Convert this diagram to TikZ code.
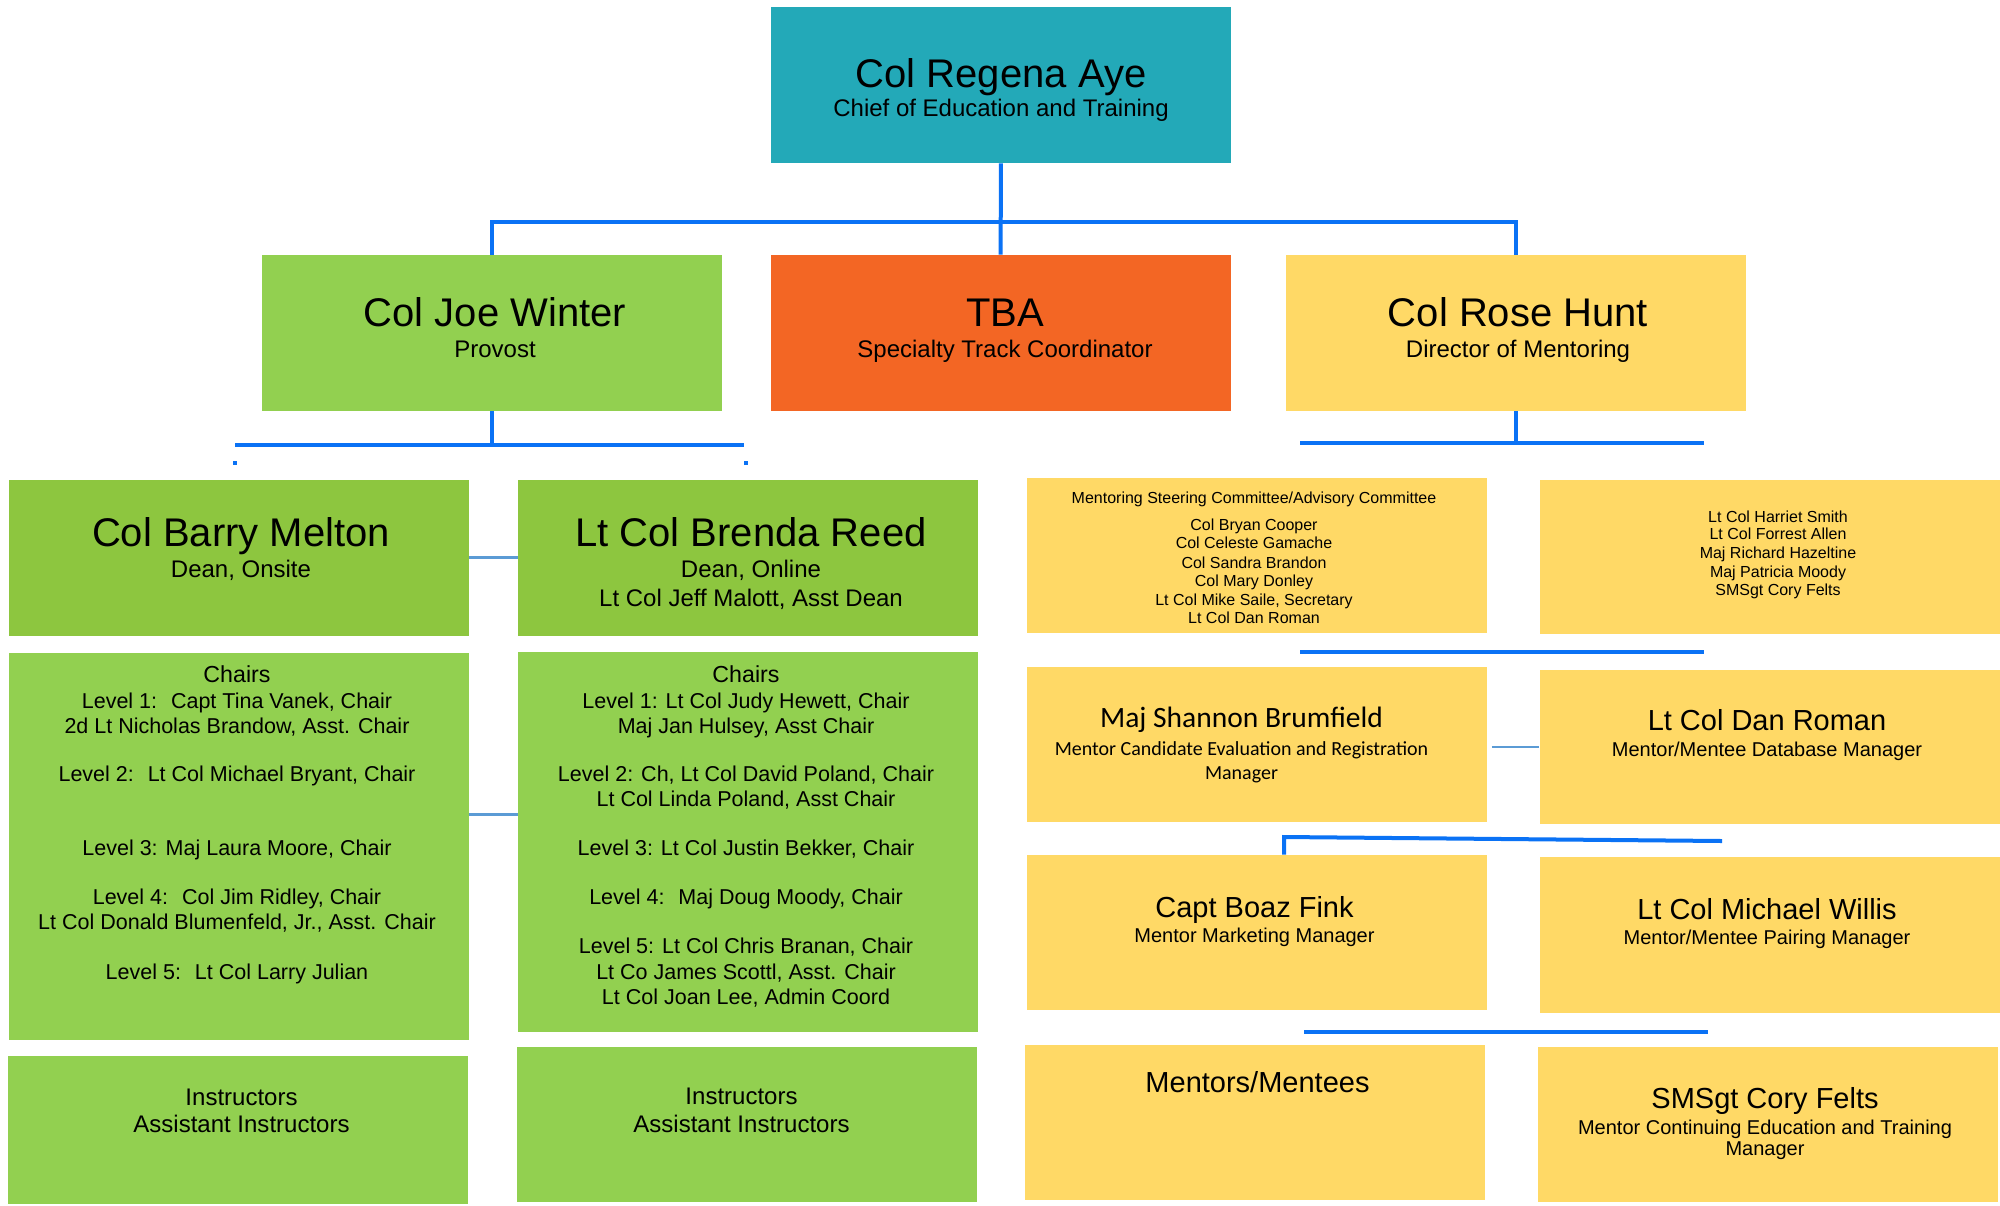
\documentclass[tikz,border=0pt]{standalone}
\usepackage{fontspec}
\usepackage{xcolor}
\usepackage{tikz}
\setmainfont{Liberation Sans}
\newfontfamily\calibrifont{Carlito}
\definecolor{chiefteal}{HTML}{23A9B8}
\definecolor{provostgreen}{HTML}{92D050}
\definecolor{deangreen}{HTML}{8DC63F}
\definecolor{trackorange}{HTML}{F36624}
\definecolor{mentorgold}{HTML}{FFD966}
\definecolor{linkblue}{HTML}{0A72F5}
\definecolor{softblue}{HTML}{5B9BD5}
\newcommand{\boxw}{230pt}
\newcommand{\boxh}{78pt}

\begin{document}
\begin{tikzpicture}[x=0.5pt, y=-0.5pt,
  box/.style={rectangle, inner sep=0pt, minimum width=\boxw, minimum height=\boxh},
  headline/.style={anchor=base, inner sep=0pt, font=\fontsize{20}{24}\selectfont},
  roleline/.style={anchor=base, inner sep=0pt, font=\fontsize{12}{14}\selectfont},
  midhead/.style={anchor=base, inner sep=0pt, font=\fontsize{14.5}{17}\selectfont},
  midrole/.style={anchor=base, inner sep=0pt, font=\fontsize{10}{12}\selectfont},
  listline/.style={anchor=base, inner sep=0pt, font=\fontsize{10.75}{12.75}\selectfont},
  smallline/.style={anchor=base, inner sep=0pt, font=\fontsize{8}{9.5}\selectfont},
  trunk/.style={draw=linkblue, line width=2pt},
  link/.style={draw=softblue, line width=1.3pt}]

\useasboundingbox (0,0) rectangle (2000,1205);

% Chief
\node[box, fill=chiefteal] (aye) at (1001,85) {};
\node[headline] (aye-name) at (1001,87) {Col Regena Aye};
\node[roleline] (aye-role) at (1001,116) {Chief of Education and Training};

% Staff row
\node[box, fill=provostgreen] (winter) at (492,333) {};
\node[headline] (winter-name) at (495,326) {Col Joe Winter};
\node[roleline] (winter-role) at (495,357) {Provost};

\node[box, fill=trackorange] (tba) at (1000.5,333) {};
\node[headline] (tba-name) at (1005,326) {TBA};
\node[roleline] (tba-role) at (1005,357) {Specialty Track Coordinator};

\node[box, fill=mentorgold] (hunt) at (1516,333) {};
\node[headline] (hunt-name) at (1518,326) {Col Rose Hunt};
\node[roleline] (hunt-role) at (1518,357) {Director of Mentoring};

% Deans
\node[box, fill=deangreen] (melton) at (239,557.5) {};
\node[headline] (melton-name) at (241,546) {Col Barry Melton};
\node[roleline] (melton-role) at (241,577) {Dean, Onsite};

\node[box, fill=deangreen] (reed) at (748,557.5) {};
\node[headline] (reed-name) at (751,546) {Lt Col Brenda Reed};
\node[roleline] (reed-role) at (751,577) {Dean, Online};
\node[roleline] (reed-asst) at (751,606) {Lt Col Jeff Malott, Asst Dean};

% Chairs, onsite
\node[box, fill=provostgreen, minimum height=193.5pt] (chairs-l) at (239,846.5) {};
\node[listline, font=\fontsize{11.6}{13.5}\selectfont] (chl-head) at (237,682) {Chairs};
\foreach \txt/\y [count=\i] in {{Level 1:~ Capt Tina Vanek, Chair}/708,
    {2d Lt Nicholas Brandow, Asst. Chair}/733,
    {Level 2:~ Lt Col Michael Bryant, Chair}/781,
    {Level 3: Maj Laura Moore, Chair}/855,
    {Level 4:~ Col Jim Ridley, Chair}/904,
    {Lt Col Donald Blumenfeld, Jr., Asst. Chair}/929,
    {Level 5:~ Lt Col Larry Julian}/979}
{
  \node[listline] (chl-\i) at (237,\y) {\txt};
}

% Chairs, online
\node[box, fill=provostgreen, minimum height=190pt] (chairs-r) at (748,842) {};
\node[listline, font=\fontsize{11.6}{13.5}\selectfont] (chr-head) at (746,682) {Chairs};
\foreach \txt/\y [count=\i] in {{Level 1: Lt Col Judy Hewett, Chair}/708,
    {Maj Jan Hulsey, Asst Chair}/733,
    {Level 2: Ch, Lt Col David Poland, Chair}/781,
    {Lt Col Linda Poland, Asst Chair}/806.5,
    {Level 3: Lt Col Justin Bekker, Chair}/855,
    {Level 4:~ Maj Doug Moody, Chair}/904,
    {Level 5: Lt Col Chris Branan, Chair}/953.5,
    {Lt Co James Scottl, Asst. Chair}/979,
    {Lt Col Joan Lee, Admin Coord}/1004}
{
  \node[listline] (chr-\i) at (746,\y) {\txt};
}

% Instructors
\node[box, fill=provostgreen, minimum height=74pt] (instr-l) at (237.5,1130) {};
\node[roleline] (instr-l-1) at (241.5,1105) {Instructors};
\node[roleline] (instr-l-2) at (241.5,1132) {Assistant Instructors};

\node[box, fill=provostgreen, minimum height=77.5pt] (instr-r) at (746.5,1124.5) {};
\node[roleline] (instr-r-1) at (741.5,1104) {Instructors};
\node[roleline] (instr-r-2) at (741.5,1132) {Assistant Instructors};

% Steering committee
\node[box, fill=mentorgold, minimum height=77.5pt] (steer) at (1257,555.5) {};
\node[smallline] (steer-head) at (1254,503) {Mentoring Steering Committee/Advisory Committee};
\foreach \txt/\y [count=\i] in {Col Bryan Cooper/530, Col Celeste Gamache/548,
    Col Sandra Brandon/568, Col Mary Donley/586,
    {Lt Col Mike Saile, Secretary}/605, Lt Col Dan Roman/623}
{
  \node[smallline] (steer-\i) at (1254,\y) {\txt};
}

% Mentoring members
\node[box, fill=mentorgold, minimum height=77pt] (members) at (1769.5,557) {};
\foreach \txt/\y [count=\i] in {Lt Col Harriet Smith/522, Lt Col Forrest Allen/539,
    Maj Richard Hazeltine/558, Maj Patricia Moody/577, SMSgt Cory Felts/595}
{
  \node[smallline] (member-\i) at (1778,\y) {\txt};
}

% Mentoring managers
\node[box, fill=mentorgold, minimum height=77.5pt] (brumfield) at (1256.5,744.5) {};
\node[anchor=base, inner sep=0pt, font=\calibrifont\fontsize{14.75}{17}\selectfont]
  (brumfield-name) at (1241.5,727) {Maj Shannon Brumfield};
\node[anchor=base, inner sep=0pt, font=\calibrifont\fontsize{10}{12}\selectfont]
  (brumfield-role) at (1241.5,755) {Mentor Candidate Evaluation and Registration};
\node[anchor=base, inner sep=0pt, font=\calibrifont\fontsize{10}{12}\selectfont]
  (brumfield-role2) at (1241.5,779) {Manager};

\node[box, fill=mentorgold, minimum height=77pt] (roman) at (1769.5,747) {};
\node[midhead] (roman-name) at (1767,730) {Lt Col Dan Roman};
\node[midrole] (roman-role) at (1767,756) {Mentor/Mentee Database Manager};

\node[box, fill=mentorgold, minimum height=77.5pt] (fink) at (1256.5,932.5) {};
\node[midhead] (fink-name) at (1254.5,917.5) {Capt Boaz Fink};
\node[midrole] (fink-role) at (1254.5,942) {Mentor Marketing Manager};

\node[box, fill=mentorgold, minimum height=78pt] (willis) at (1769.5,935) {};
\node[midhead] (willis-name) at (1767,919) {Lt Col Michael Willis};
\node[midrole] (willis-role) at (1767,944.5) {Mentor/Mentee Pairing Manager};

\node[box, fill=mentorgold, minimum height=77.5pt] (mentees) at (1254.5,1122.5) {};
\node[midhead] (mentees-name) at (1257.5,1092) {Mentors/Mentees};

\node[box, fill=mentorgold, minimum height=77.5pt] (felts) at (1767.5,1124.5) {};
\node[midhead] (felts-name) at (1765,1108.5) {SMSgt Cory Felts};
\node[midrole] (felts-role) at (1765,1134.5) {Mentor Continuing Education and Training};
\node[midrole] (felts-role2) at (1765,1155) {Manager};

% Chief to staff
\coordinate (staff-bar) at (0,222);
\draw[trunk] (aye) -- (tba);
\draw[trunk] (winter.north) -- (winter.north |- staff-bar)
  -- (hunt.north |- staff-bar) -- (hunt.north);

% Provost to deans
\coordinate (dean-bar-l) at (235,445);
\coordinate (dean-bar-r) at (744,445);
\draw[trunk] (winter.south) -- (winter.south |- dean-bar-l);
\draw[trunk] (dean-bar-l) -- (dean-bar-r);
\coordinate (tick-l) at (235,463);
\coordinate (tick-r) at (746,463);
\foreach \t in {tick-l, tick-r}
{
  \fill[linkblue] ([xshift=-1pt, yshift=-1pt]\t) rectangle ([xshift=1pt, yshift=1pt]\t);
}

% Director to mentoring
\coordinate (ment-bar-l) at (1300,443);
\coordinate (ment-bar-r) at (1704,443);
\draw[trunk] (hunt.south) -- (hunt.south |- ment-bar-l);
\draw[trunk] (ment-bar-l) -- (ment-bar-r);

\coordinate (mgr-bar-l) at (1300,652);
\coordinate (mgr-bar-r) at (1704,652);
\draw[trunk] (mgr-bar-l) -- (mgr-bar-r);

\coordinate (fink-bar-l) at (1284,837);
\coordinate (fink-bar-r) at (1722,841);
\draw[trunk] (fink-bar-l |- fink.north) -- (fink-bar-l) -- (fink-bar-r);

\coordinate (base-bar-l) at (1304,1032);
\coordinate (base-bar-r) at (1708,1032);
\draw[trunk] (base-bar-l) -- (base-bar-r);

% Side links
\draw[link] (melton) -- (reed);
\draw[link] ([yshift=16pt]chairs-l.east) -- ([yshift=16pt]chairs-l.east -| chairs-r.west);
\draw[link] ([xshift=2.5pt]brumfield.east |- roman.west) -- (roman.west);

\end{tikzpicture}
\end{document}
